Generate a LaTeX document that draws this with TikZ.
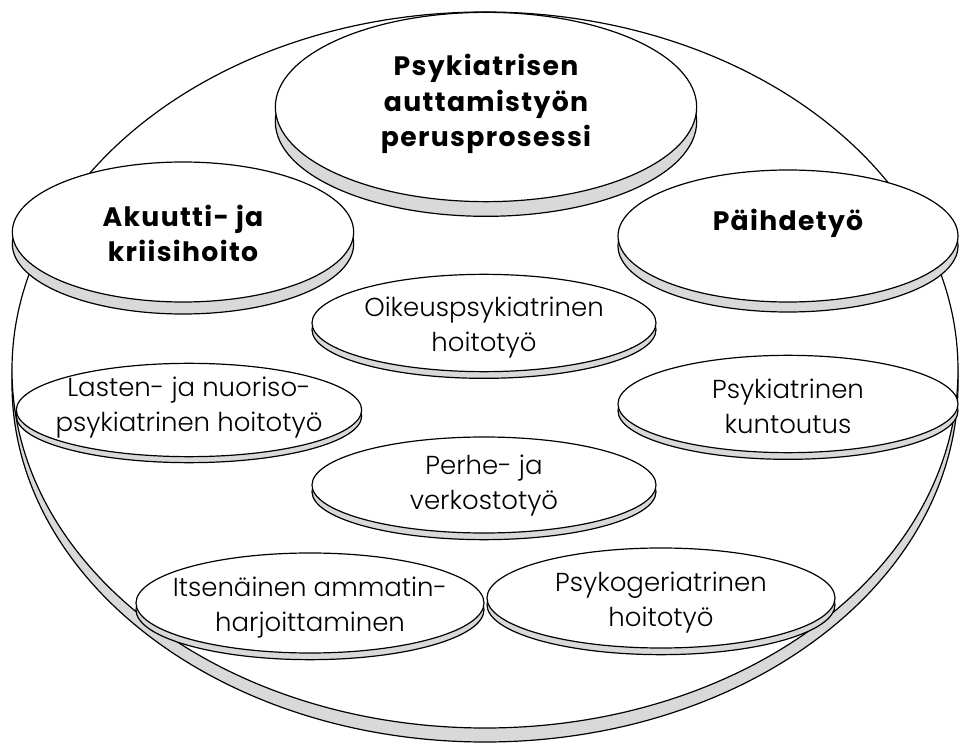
\documentclass[tikz,border=0pt]{standalone}
\usepackage{fontspec}
\newfontfamily\labelfont{Poppins Light}
\newfontfamily\titlefont[LetterSpace=5]{Poppins Bold}
\usetikzlibrary{shapes.geometric,shadows}
\definecolor{basegray}{gray}{0.85}
% text that does not widen the ellipse
\newcommand\disktext[2][-8pt]{\smash{\makebox[0pt]{\raisebox{#1}{\begin{tabular}{@{}c@{}}#2\end{tabular}}}}}

\begin{document}
\begin{tikzpicture}[x=0.75pt, y=-0.75pt,
    outline/.style={draw=black, line width=0.9pt},
    disk/.style={ellipse, outline, fill=white, inner sep=0pt,
        general shadow={shadow yshift=-#1, fill=basegray, draw=black, line width=0.9pt}},
    title text/.style={font=\titlefont\fontsize{20}{26.5}\selectfont},
    plain text/.style={font=\labelfont\fontsize{19.5}{26}\selectfont}
    ]

\useasboundingbox (0,0) rectangle (961,745);

% the big plate
\draw[outline, fill=basegray] (485,384) ellipse [x radius=473, y radius=358];
\draw[outline, fill=white] (485,370) ellipse [x radius=473, y radius=358];

\node[disk=11pt, minimum width=316pt, minimum height=142pt, title text]
    (core) at (486,107) {\disktext[-3pt]{Psykiatrisen\\auttamistyön\\perusprosessi}};

\node[disk=9pt, minimum width=256pt, minimum height=105pt, title text]
    (acute) at (183,232) {\disktext[-9pt]{Akuutti- ja\\kriisihoito}};

\node[disk=7.5pt, minimum width=255pt, minimum height=99pt, title text]
    (drugs) at (788,236) {\disktext[4.5pt]{Päihdetyö}};

\node[disk=5pt, minimum width=258pt, minimum height=73pt, plain text]
    (forensic) at (484,323) {\disktext{Oikeuspsykiatrinen\\hoitotyö}};

\node[disk=4.5pt, minimum width=259pt, minimum height=70pt, plain text]
    (youth) at (189,410) {\disktext[-2.9pt]{Lasten- ja nuoriso-\\psykiatrinen hoitotyö}};

\node[disk=5pt, minimum width=255pt, minimum height=73pt, plain text]
    (rehab) at (788,404) {\disktext[-9pt]{Psykiatrinen\\kuntoutus}};

\node[disk=5pt, minimum width=258pt, minimum height=72pt, plain text]
    (family) at (484,485) {\disktext[-5pt]{Perhe- ja\\verkostotyö}};

\node[disk=5pt, minimum width=261pt, minimum height=75pt, plain text]
    (private) at (310,603) {\disktext{Itsenäinen ammatin-\\harjoittaminen}};

\node[disk=5pt, minimum width=261pt, minimum height=75pt, plain text]
    (elderly) at (661,598) {\disktext{Psykogeriatrinen\\hoitotyö}};

\end{tikzpicture}
\end{document}
